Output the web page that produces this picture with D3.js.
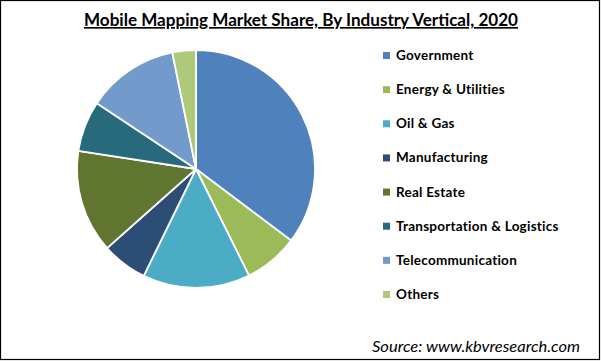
<!DOCTYPE html>
<html>
<head>
<meta charset="utf-8">
<script src="https://cdn.jsdelivr.net/npm/d3@7"></script>
<style>
html,body{margin:0;padding:0;background:#fff;}
svg{display:block;}
</style>
</head>
<body>
<svg id="chart" width="601" height="361"></svg>
<script>
const categories = ["Government","Energy & Utilities","Oil & Gas","Manufacturing","Real Estate","Transportation & Logistics","Telecommunication","Others"];
const shares = [35.3, 7.4, 14.6, 6.2, 14.0, 6.9, 12.5, 3.2];
const colors = ["#4f81bd","#9bbb59","#4bacc6","#2c4d75","#5f7530","#276a7c","#729aca","#afc97a"];
const title = "Mobile Mapping Market Share, By Industry Vertical, 2020";
const source = "Source: www.kbvresearch.com";

const svg = d3.select("#chart");
const font = "Lato, 'Open Sans', sans-serif";

svg.append("rect").attr("x",0.5).attr("y",0.5).attr("width",599).attr("height",359)
  .attr("fill","#fff").attr("stroke","#000").attr("stroke-width",1.2);

svg.append("text").attr("x",301).attr("y",26).attr("text-anchor","middle")
  .attr("font-family",font).attr("font-weight","bold").attr("font-size",16.5)
  .attr("fill","#000").attr("text-decoration","underline")
  .attr("textLength",434).attr("lengthAdjust","spacingAndGlyphs")
  .text(title);

const data = categories.map((c,i)=>({name:c,value:shares[i],color:colors[i]}));
const pie = d3.pie().sort(null).value(d=>d.value);
const arc = d3.arc().innerRadius(0).outerRadius(119);
const g = svg.append("g").attr("transform","translate(196,169)");
g.selectAll("path").data(pie(data)).join("path")
  .attr("d",arc).attr("fill",d=>d.data.color)
  .attr("stroke","#fff").attr("stroke-width",1.8).attr("stroke-linejoin","round");

const y = d3.scalePoint().domain(categories).range([55,294]);
const leg = svg.append("g");
const items = leg.selectAll("g").data(data).join("g")
  .attr("transform",d=>`translate(383,${y(d.name)})`);
items.append("rect").attr("x",0).attr("y",-3).attr("width",7).attr("height",7).attr("fill",d=>d.color);
items.append("text").attr("x",13).attr("y",5)
  .attr("font-family",font).attr("font-weight","bold").attr("font-size",13.5)
  .attr("letter-spacing",0.25)
  .attr("fill","#000").text(d=>d.name);

svg.append("text").attr("x",580).attr("y",352).attr("text-anchor","end")
  .attr("font-family",font).attr("font-style","italic").attr("font-size",15)
  .attr("textLength",208).attr("lengthAdjust","spacingAndGlyphs")
  .attr("fill","#000").text(source);
</script>
</body>
</html>
